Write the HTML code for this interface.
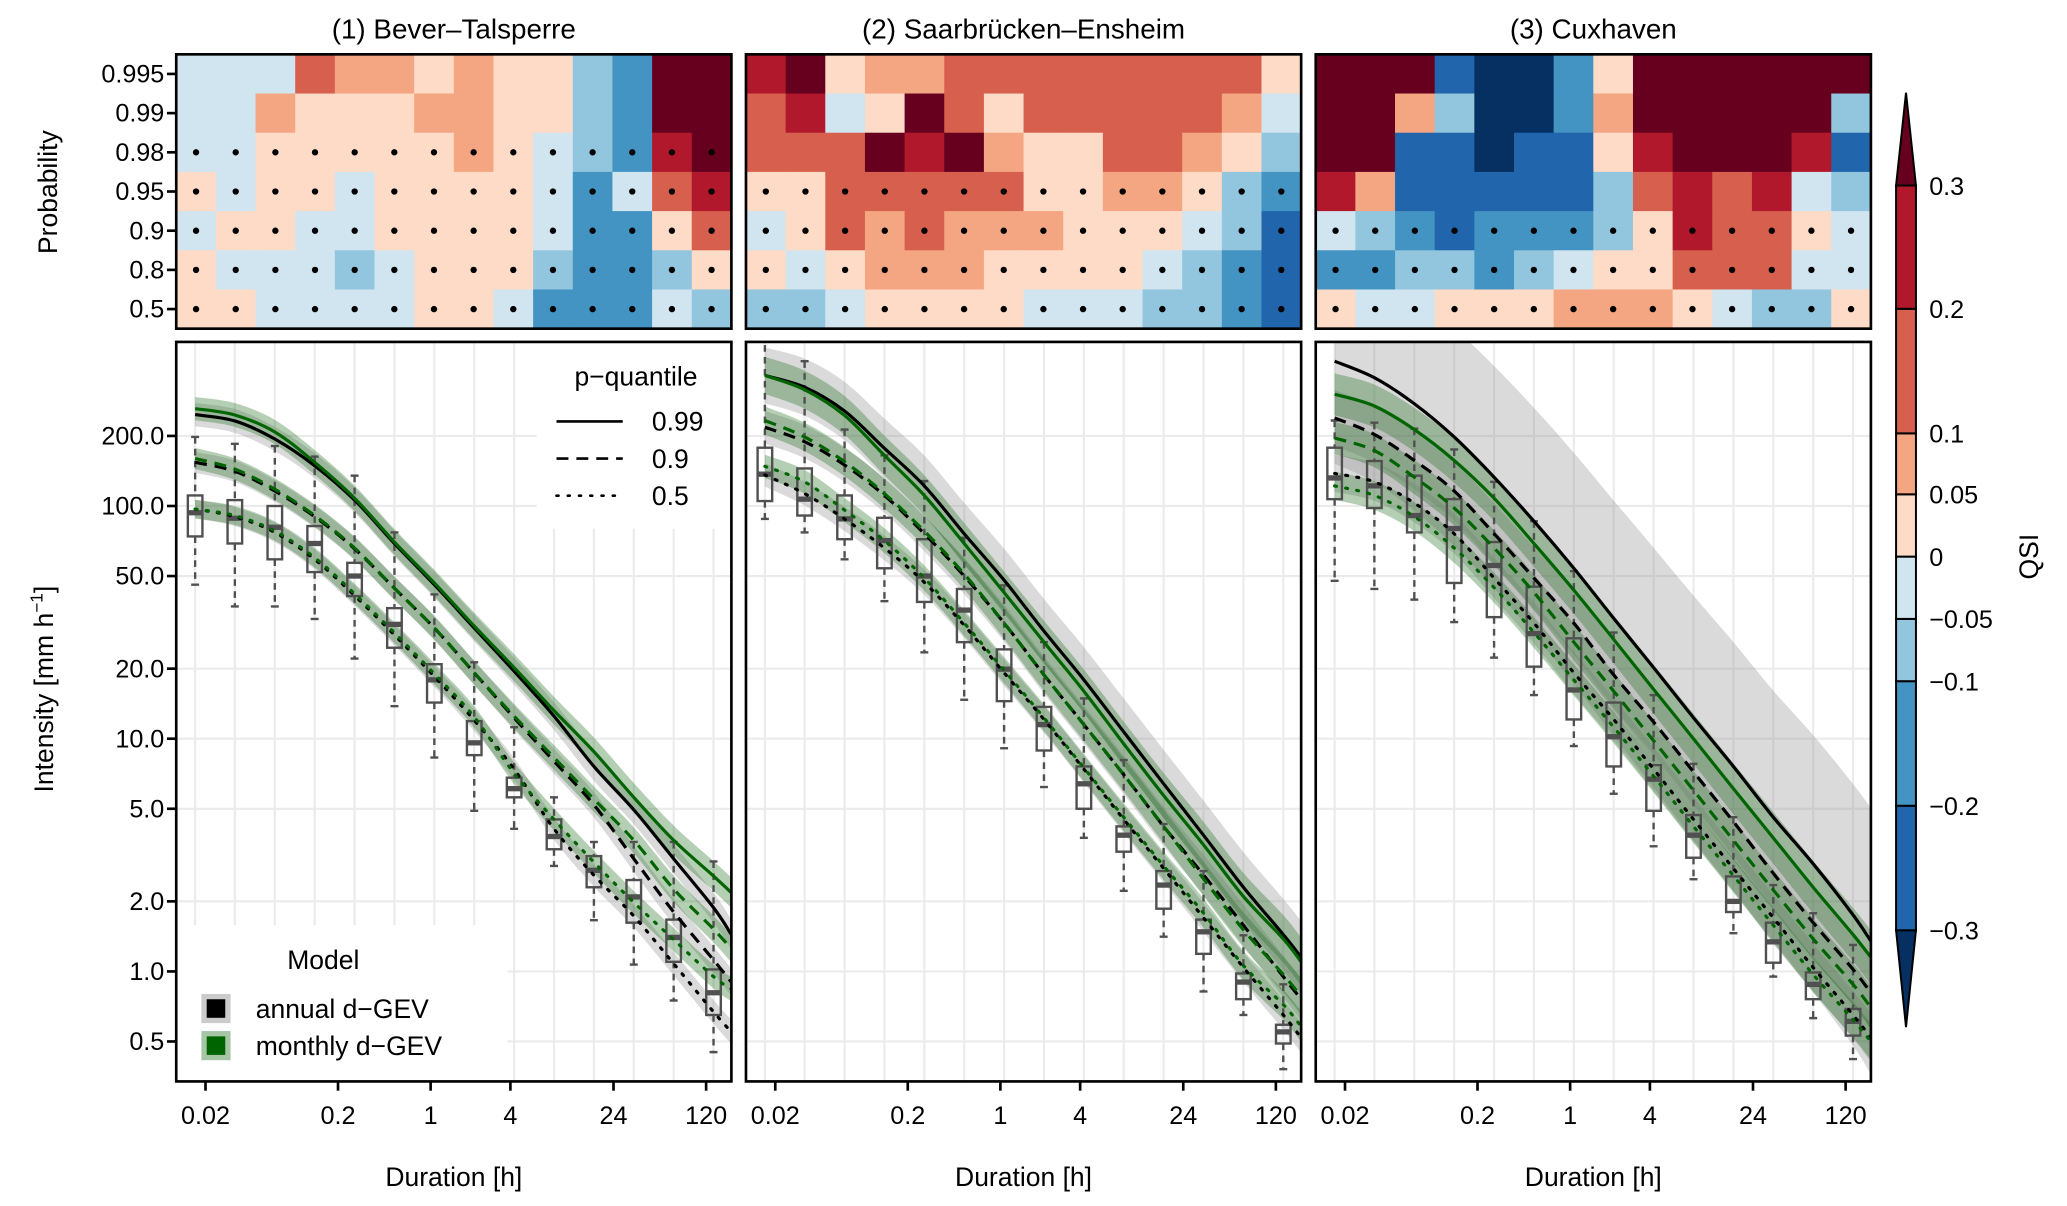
<!DOCTYPE html>
<html><head><meta charset="utf-8"><style>
html,body{margin:0;padding:0;background:#fff;}
svg{display:block;font-family:"Liberation Sans",Arial,sans-serif;}
</style></head><body>
<svg id="fig" width="2067" height="1206" viewBox="0 0 1560 910" preserveAspectRatio="none" xmlns="http://www.w3.org/2000/svg">
<defs>
<clipPath id="c0"><rect x="133" y="258" width="419" height="558"/></clipPath>
<clipPath id="c1"><rect x="563" y="258" width="419" height="558"/></clipPath>
<clipPath id="c2"><rect x="993" y="258" width="419" height="558"/></clipPath>
</defs>
</svg>
<script>
// ---------- data ----------
const panelTitles = ["(1) Bever\u2013Talsperre","(2) Saarbr\u00fccken\u2013Ensheim","(3) Cuxhaven"];
const probLabels = ["0.995","0.99","0.98","0.95","0.9","0.8","0.5"];
const durations = [0.0167,0.0333,0.0667,0.1333,0.2667,0.5333,1.0667,2.133,4.267,8.533,17.07,34.13,68.27,136.5];
const curveDurations = [0.0167,0.0333,0.0667,0.1333,0.2667,0.5333,1.0667,2.133,4.267,8.533,17.07,34.13,68.27,136.5,186];
const xTickValues = [0.02,0.2,1,4,24,120];
const xTickLabels = ["0.02","0.2","1","4","24","120"];
const yTickValues = [200,100,50,20,10,5,2,1,0.5];
const yTickLabels = ["200.0","100.0","50.0","20.0","10.0","5.0","2.0","1.0","0.5"];
const qsiBreaks = [-0.3,-0.2,-0.1,-0.05,0,0.05,0.1,0.2,0.3];
const qsiBreakLabels = ["\u22120.3","\u22120.2","\u22120.1","\u22120.05","0","0.05","0.1","0.2","0.3"];

const heat1 = [
 [-.02,-.02,-.02,.15,.07,.07,.02,.07,.02,.02,-.07,-.15,.35,.35],
 [-.02,-.02,.07,.02,.02,.02,.07,.07,.02,.02,-.07,-.15,.35,.35],
 [-.02,-.02,.02,.02,.02,.02,.02,.07,.02,-.02,-.07,-.15,.25,.35],
 [.02,-.02,.02,.02,-.02,.02,.02,.02,.02,-.02,-.15,-.02,.15,.25],
 [-.02,.02,.02,-.02,-.02,.02,.02,.02,.02,-.02,-.15,-.15,.02,.15],
 [.02,-.02,-.02,-.02,-.07,-.02,.02,.02,.02,-.07,-.15,-.15,-.07,.02],
 [.02,.02,-.02,-.02,-.02,-.02,.02,.02,-.02,-.15,-.15,-.15,-.02,-.07]];
const heat2 = [
 [.25,.35,.02,.07,.07,.15,.15,.15,.15,.15,.15,.15,.15,.02],
 [.15,.25,-.02,.02,.35,.15,.02,.15,.15,.15,.15,.15,.07,-.02],
 [.15,.15,.15,.35,.25,.35,.07,.02,.02,.15,.15,.07,.02,-.07],
 [.02,.02,.15,.15,.15,.15,.15,.02,.02,.07,.07,.02,-.07,-.15],
 [-.02,.02,.15,.07,.15,.07,.07,.07,.02,.02,.02,-.02,-.07,-.25],
 [.02,-.02,.02,.07,.07,.07,.02,.02,.02,.02,-.02,-.07,-.15,-.25],
 [-.07,-.07,-.02,.02,.02,.02,.02,-.02,-.02,-.02,-.07,-.07,-.15,-.25]];
const heat3 = [
 [.35,.35,.35,-.25,-.35,-.35,-.15,.02,.35,.35,.35,.35,.35,.35],
 [.35,.35,.07,-.07,-.35,-.35,-.15,.07,.35,.35,.35,.35,.35,-.07],
 [.35,.35,-.25,-.25,-.35,-.25,-.25,.02,.25,.35,.35,.35,.25,-.25],
 [.25,.07,-.25,-.25,-.25,-.25,-.25,-.07,.15,.25,.15,.25,-.02,-.07],
 [-.02,-.07,-.15,-.25,-.15,-.15,-.15,-.07,.02,.25,.15,.15,.02,-.02],
 [-.15,-.15,-.07,-.07,-.15,-.07,-.02,.02,.02,.15,.15,.15,-.02,-.02],
 [.02,-.02,-.02,.02,.02,.02,.07,.07,.07,.02,-.02,-.07,-.07,.02]];
const dotFirstRow = [2,3,4];

// curves (intensity mm/h) at curveDurations
const p1A99=[247,232,194,149,106,69,45.9,29.9,19.5,12.5,7.6,4.95,3.05,1.88,1.44];
const p1M99=[262,246,208,154,108,70,46.7,30.5,20.2,13.2,8.8,5.6,3.66,2.57,2.18];
const p1A90=[154,141,116,90,65.5,44.3,29.9,19.2,12.3,8.0,5.2,3.05,1.80,1.12,0.90];
const p1M90=[160,144,118,91,66,44.3,29.9,19.2,12.5,8.3,5.5,3.66,2.26,1.52,1.25];
const p1A50=[97,90,77,59,41.2,27.9,18.5,12.0,7.4,4.1,2.59,1.73,1.08,0.67,0.55];
const p1M50=[97,91,78,60,42,28.5,19,12.4,7.1,4.5,2.95,1.98,1.37,0.95,0.84];
const p2A99=[364,324,256,177,122,76,48,29,17.9,10.7,6.4,3.85,2.3,1.44,1.15];
const p2M99=[364,316,245,165,111,69,42.5,26,16,9.5,5.7,3.5,2.1,1.38,1.1];
const p2A90=[218,189,150,111,76,50,31.4,18.8,11.5,7.0,4.2,2.6,1.58,0.95,0.76];
const p2M90=[233,198,155,113,78,51,31.4,18.8,11.5,7.0,4.2,2.5,1.51,0.97,0.78];
const p2A50=[136,113,88,66,47,30.7,19.2,12.1,7.4,4.5,2.77,1.70,1.04,0.65,0.52];
const p2M50=[148,127,96,71,49,31.4,19.7,12.3,7.5,4.6,2.84,1.78,1.06,0.72,0.58];
const p3A99=[419,356,275,198,133,86,54,32.9,20.2,12.3,7.6,4.6,2.9,1.75,1.35];
const p3M99=[302,269,213,157,108,69,43.5,26.7,16.3,10,6.1,3.75,2.3,1.44,1.15];
const p3A90=[239,203,157,116,76,49,31.4,18.8,11.8,7.2,4.4,2.64,1.62,1.02,0.81];
const p3M90=[196,173,133,98,66,42.5,26,16,9.8,6.0,3.66,2.24,1.38,0.88,0.70];
const p3A50=[138,127,103,76,49,31.4,19.2,12.1,7.4,4.5,2.77,1.70,1.04,0.65,0.52];
const p3M50=[122,111,90,66,44.6,28.6,17.9,11.2,6.9,4.2,2.58,1.58,0.97,0.62,0.50];
// band half widths (log10) for [0.99,0.9,0.5]
const bandA = [[0.05,0.045,0.04],[0.12,0.07,0.05],[0.44,0.12,0.08]];
const bandM = [[0.05,0.045,0.04],[0.08,0.06,0.05],[0.09,0.07,0.06]];

// boxplots: [whiskerTop, q3, median, q1, whiskerBottom]
const boxes1 = [[198,111,93.5,74,45.9],[185,106,88.6,69,37],[181,100,81,59,37],[163,82,69,52,32.7],[135,57,50,41,22.1],[77,36.4,31,24.6,13.8],[41.7,20.9,17.9,14.3,8.3],[21.3,11.9,9.6,8.5,4.9],[11.2,6.8,6.1,5.6,4.1],[5.6,4.5,3.8,3.35,2.84],[3.6,3.13,2.72,2.30,1.66],[3.6,2.47,2.09,1.62,1.07],[3.6,1.67,1.40,1.10,0.75],[2.97,1.02,0.81,0.65,0.45]];
const boxes2 = [[622,178,137,105,88],[419,145,107,91,77],[213,111,88,72,59],[165,89,71,54,39],[128,72,50,38.7,23.5],[73,44,35.7,26,14.7],[45.6,24.2,19.9,14.5,9.1],[26,13.7,11.5,8.9,6.2],[14.9,7.6,6.4,5.0,3.75],[8.1,4.2,3.85,3.27,2.22],[4.3,2.7,2.35,1.86,1.41],[2.7,1.67,1.48,1.19,0.82],[1.43,0.98,0.90,0.76,0.65],[0.88,0.59,0.55,0.49,0.38]];
const boxes3 = [[233,178,132,107,47.7],[228,156,122,98,44],[215,135,91,77,39.6],[175,107,80,46.7,31.7],[127,70,55.5,33.3,22.3],[86,45,28.3,20.4,15.4],[52.5,27,16.2,12.1,9.3],[28.6,14.3,10.2,7.6,5.8],[15.4,7.7,6.7,4.9,3.45],[7.8,4.7,3.85,3.08,2.49],[4.6,2.56,2.0,1.80,1.46],[2.35,1.62,1.34,1.09,0.95],[1.78,0.99,0.88,0.76,0.63],[1.30,0.69,0.61,0.53,0.42]];

// ---------- drawing ----------
const svg = document.getElementById('fig');
const NS = 'http://www.w3.org/2000/svg';
const panelLeft = [133,563,993], panelW = 419;
const heatTop = 41, heatH = 207, lowTop = 258, lowBot = 816;
function xS(p,d){ return panelLeft[p] + 192 + 100*Math.log10(d); }
function yS(v){ return 733 - 175.6*Math.log10(v); }
function mk(tag, attrs, parent){ const e=document.createElementNS(NS,tag); for(const k in attrs) e.setAttribute(k,attrs[k]); (parent||svg).appendChild(e); return e; }
function txt(s, attrs, parent){ const e=mk('text',attrs,parent); e.textContent=s; return e; }
const binColors = ['#053061','#2166ac','#4393c3','#92c5de','#d1e5f0','#fddbc7','#f4a582','#d6604d','#b2182b','#67001f'];
function qsiColor(v){ let i=0; while(i<qsiBreaks.length && v>qsiBreaks[i]) i++; return binColors[i]; }
function smoothPath(pts){
  let d='M'+pts[0][0].toFixed(2)+','+pts[0][1].toFixed(2);
  for(let i=0;i<pts.length-1;i++){
    const p0=pts[Math.max(0,i-1)],p1=pts[i],p2=pts[i+1],p3=pts[Math.min(pts.length-1,i+2)];
    const c1=[p1[0]+(p2[0]-p0[0])/6,p1[1]+(p2[1]-p0[1])/6];
    const c2=[p2[0]-(p3[0]-p1[0])/6,p2[1]-(p3[1]-p1[1])/6];
    d+=' C'+c1[0].toFixed(2)+','+c1[1].toFixed(2)+' '+c2[0].toFixed(2)+','+c2[1].toFixed(2)+' '+p2[0].toFixed(2)+','+p2[1].toFixed(2);
  }
  return d;
}
const heats=[heat1,heat2,heat3];
const boxesAll=[boxes1,boxes2,boxes3];
const curves=[[p1A99,p1A90,p1A50,p1M99,p1M90,p1M50],[p2A99,p2A90,p2A50,p2M99,p2M90,p2M50],[p3A99,p3A90,p3A50,p3M99,p3M90,p3M50]];
const dashes=['none','9,6','1.5,7'];
const qNames=['q099','q09','q05'];

for(let p=0;p<3;p++){
  const L=panelLeft[p], g=mk('g',{});
  
  
  const t=txt(panelTitles[p],{x:L+panelW/2,y:29,'font-size':21,'text-anchor':'middle'},g);
  
  
  const cw=panelW/14, rh=heatH/7;
  const hg=mk('g',{},g);
  
  
  heats[p].forEach((row,r)=>row.forEach((v,c)=>{
    const cell=mk('rect',{x:L+c*cw,y:heatTop+r*rh,width:cw+0.4,height:rh+0.4,fill:qsiColor(v)},hg);
    
    
    if(r>=dotFirstRow[p]){
      const dot=mk('circle',{cx:L+c*cw+cw/2,cy:heatTop+r*rh+rh/2,r:2.4,fill:'#000'},hg);
      
      
    }
  }));
  mk('rect',{x:L,y:heatTop,width:panelW,height:heatH,fill:'none',stroke:'#000','stroke-width':2},g);
  mk('rect',{x:L,y:lowTop,width:panelW,height:lowBot-lowTop,fill:'#fff'},g);
  const gg=mk('g',{stroke:'#ebebeb','stroke-width':1.6},g);
  
  
  durations.forEach(d=>mk('line',{x1:xS(p,d),x2:xS(p,d),y1:lowTop,y2:lowBot},gg));
  yTickValues.forEach(v=>mk('line',{x1:L,x2:L+panelW,y1:yS(v),y2:yS(v)},gg));
  if(p===0){
    mk('rect',{x:405,y:259,width:146,height:140,fill:'#fff'},g);
    mk('rect',{x:134,y:698,width:249,height:117,fill:'#fff'},g);
  }
  const cg=mk('g',{'clip-path':'url(#c'+p+')'},g);
  const cs=curves[p];
  for(let k=0;k<6;k++){
    const isA=k<3, q=k%3, w=(isA?bandA:bandM)[p][q];
    const up=[],lo=[];
    curveDurations.forEach((d,i)=>{ const f=w*(1+0.3*i/14); up.push([xS(p,d),yS(cs[k][i]*Math.pow(10,f))]); lo.push([xS(p,d),yS(cs[k][i]/Math.pow(10,f))]); });
    const path=smoothPath(up)+' L'+smoothPath(lo.slice().reverse()).slice(1)+' Z';
    const b=mk('path',{d:path,fill:isA?'rgba(140,140,140,0.32)':'rgba(30,110,30,0.33)'},cg);
    
    
  }
  boxesAll[p].forEach((bx,i)=>{
    const x=xS(p,durations[i]);
    const bg=mk('g',{stroke:'#505050','stroke-width':1.8,fill:'none'},cg);
    
    
    mk('line',{x1:x,x2:x,y1:yS(bx[0]),y2:yS(bx[1]),'stroke-dasharray':'5,4'},bg);
    mk('line',{x1:x,x2:x,y1:yS(bx[3]),y2:yS(bx[4]),'stroke-dasharray':'5,4'},bg);
    mk('line',{x1:x-3,x2:x+3,y1:yS(bx[0]),y2:yS(bx[0])},bg);
    mk('line',{x1:x-3,x2:x+3,y1:yS(bx[4]),y2:yS(bx[4])},bg);
    mk('rect',{x:x-5.5,y:yS(bx[1]),width:11,height:yS(bx[3])-yS(bx[1])},bg);
    mk('line',{x1:x-5.5,x2:x+5.5,y1:yS(bx[2]),y2:yS(bx[2]),'stroke-width':4},bg);
  });
  for(let k=0;k<6;k++){
    const isA=k<3,q=k%3;
    const pts=curveDurations.map((d,i)=>[xS(p,d),yS(cs[k][i])]);
    const ln=mk('path',{d:smoothPath(pts),fill:'none',stroke:isA?'#000':'#006400','stroke-width':2.4,'stroke-dasharray':dashes[q],'stroke-linecap':q===2?'round':'butt'},cg);
    
    
  }
  mk('rect',{x:L,y:lowTop,width:panelW,height:lowBot-lowTop,fill:'none',stroke:'#000','stroke-width':2},g);
  const xa=mk('g',{},g);
  
  
  xTickValues.forEach((v,i)=>{
    mk('line',{x1:xS(p,v),x2:xS(p,v),y1:lowBot,y2:lowBot+7,stroke:'#000','stroke-width':2},xa);
    txt(xTickLabels[i],{x:xS(p,v),y:848,'font-size':19,'text-anchor':'middle'},xa);
  });
  const xt=txt('Duration [h]',{x:L+panelW/2,y:895,'font-size':20,'text-anchor':'middle'},g);
  
  
}
const ya=mk('g',{});  
probLabels.forEach((s,r)=>{ const y=heatTop+(r+0.5)*heatH/7; mk('line',{x1:126,x2:133,y1:y,y2:y,stroke:'#000','stroke-width':2},ya); txt(s,{x:124,y:y+6.5,'font-size':19,'text-anchor':'end'},ya); });
const pt=txt('Probability',{x:0,y:0,'font-size':20,'text-anchor':'middle',transform:'translate(43,145) rotate(-90)'});  
const ia=mk('g',{});  
yTickValues.forEach((v,i)=>{ mk('line',{x1:126,x2:133,y1:yS(v),y2:yS(v),stroke:'#000','stroke-width':2},ia); txt(yTickLabels[i],{x:124,y:yS(v)+6.5,'font-size':19,'text-anchor':'end'},ia); });
const it=mk('text',{x:0,y:0,'font-size':20,'text-anchor':'middle',transform:'translate(40,520) rotate(-90)'});
 
it.innerHTML='Intensity [mm h<tspan dy="-8" font-size="13">\u22121</tspan><tspan dy="8">]</tspan>';
const lg=mk('g',{});  
txt('p\u2212quantile',{x:480,y:291,'font-size':20,'text-anchor':'middle'},lg);
['0.99','0.9','0.5'].forEach((s,i)=>{ const y=318+i*28; mk('line',{x1:420,x2:470,y1:y,y2:y,stroke:'#000','stroke-width':2,'stroke-dasharray':dashes[i],'stroke-linecap':i===2?'round':'butt'},lg); txt(s,{x:492,y:y+7,'font-size':20},lg); });
const ml=mk('g',{});  
txt('Model',{x:244,y:731,'font-size':20,'text-anchor':'middle'},ml);
[['annual d\u2212GEV','rgba(140,140,140,0.45)','#000'],['monthly d\u2212GEV','rgba(30,110,30,0.4)','#006400']].forEach((e,i)=>{
  const y=761+i*28; mk('rect',{x:152,y:y-11,width:22,height:22,fill:e[1]},ml); mk('rect',{x:156,y:y-7,width:14,height:14,fill:e[2]},ml);
  txt(e[0],{x:193,y:y+7,'font-size':20},ml); });
const cb=mk('g',{});  
const cbY=[702,608,514,467,420,373,327,233,140], x0=1431, x1=1446;
for(let i=0;i<8;i++) mk('rect',{x:x0,y:cbY[i+1],width:x1-x0,height:cbY[i]-cbY[i+1],fill:binColors[i+1],stroke:'#000','stroke-width':1.5},cb);
mk('polygon',{points:`${x0},140 ${x1},140 ${(x0+x1)/2},70`,fill:binColors[9],stroke:'#000','stroke-width':1.5},cb);
mk('polygon',{points:`${x0},702 ${x1},702 ${(x0+x1)/2},775`,fill:binColors[0],stroke:'#000','stroke-width':1.5},cb);
qsiBreaks.forEach((v,i)=>txt(qsiBreakLabels[i],{x:1456,y:cbY[i]+7,'font-size':19},cb));
const qt=txt('QSI',{x:0,y:0,'font-size':20,'text-anchor':'middle',transform:'translate(1538,420) rotate(-90)'});  
</script>
</body></html>
